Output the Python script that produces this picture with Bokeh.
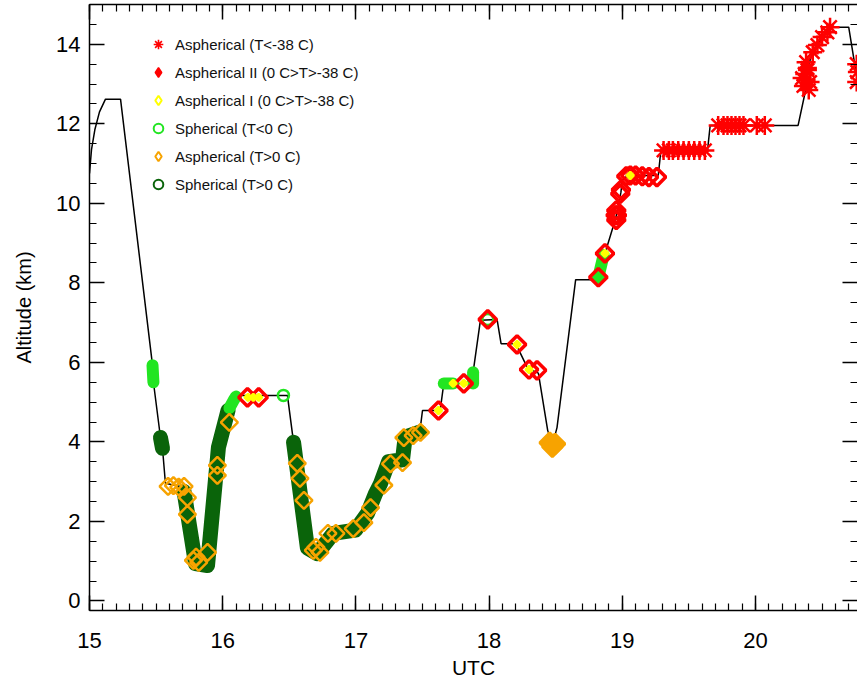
import math
from bokeh.plotting import figure
from bokeh.models import (Range1d, LinearAxis, SingleIntervalTicker, CustomJSTickFormatter,
                          Legend, LegendItem)
from bokeh.embed import file_html
from bokeh.resources import INLINE

# ---------------- data ----------------
# flight track (UTC hours, altitude km)
track_utc = [15.00, 15.015, 15.04, 15.075, 15.12, 15.233, 15.473, 15.48, 15.533, 15.548, 15.57,
             15.706, 15.796, 15.886, 15.968, 16.04, 16.081, 16.111, 16.486, 16.532, 16.636,
             16.71, 16.83, 16.997, 17.087, 17.147, 17.185, 17.245, 17.35, 17.37, 17.48, 17.50,
             17.62, 17.635, 17.66, 17.88, 17.88, 17.935, 18.06, 18.09, 18.20, 18.29, 18.37,
             18.44, 18.475, 18.51, 18.65, 18.77, 18.82, 18.87, 18.93, 18.96, 18.99, 19.00,
             19.04, 19.27, 19.29, 19.64, 19.66, 20.32, 20.38, 20.40, 20.43, 20.50, 20.56,
             20.70, 20.745, 20.77]
track_alt = [10.75, 11.35, 11.85, 12.30, 12.62, 12.62, 5.93, 5.50, 4.11, 3.84, 2.96,
             2.86, 0.94, 0.89, 3.86, 4.79, 5.04, 5.17, 5.17, 3.99, 1.33,
             1.19, 1.70, 1.78, 2.20, 2.70, 2.95, 3.50, 3.55, 4.12, 4.25, 4.79,
             4.79, 4.85, 5.47, 5.47, 5.75, 7.06, 7.08, 6.47, 6.47, 5.85, 5.73,
             4.29, 3.92, 4.36, 8.08, 8.08, 8.14, 8.74, 9.40, 9.75, 10.28, 10.58,
             10.70, 10.70, 11.33, 11.33, 11.96, 11.96, 12.90, 13.50, 13.80, 14.18, 14.43,
             14.43, 13.50, 13.20]

# Spherical (T>0 C): dense runs of samples
sph_warm_runs_utc = [[15.533, 15.548],
                     [15.71, 15.796, 15.886, 15.968, 16.04],
                     [16.532, 16.636, 16.71, 16.83, 16.997, 17.087, 17.147, 17.185, 17.245,
                      17.35, 17.37, 17.48]]
sph_warm_runs_alt = [[4.11, 3.84],
                     [2.75, 0.94, 0.89, 3.86, 4.79],
                     [3.99, 1.33, 1.19, 1.70, 1.78, 2.20, 2.70, 2.95, 3.50,
                      3.55, 4.12, 4.25]]

# Spherical (T<0 C): dense runs and isolated samples
sph_cold_runs_utc = [[15.473, 15.48], [16.05, 16.081, 16.10], [17.66, 17.73],
                     [17.88, 17.88], [18.82, 18.86]]
sph_cold_runs_alt = [[5.93, 5.50], [4.85, 5.04, 5.14], [5.47, 5.47],
                     [5.47, 5.75], [8.14, 8.70]]
sph_cold_utc = [16.456, 17.99, 18.82]
sph_cold_alt = [5.17, 7.08, 8.14]

# Aspherical (T>0 C)
asph_warm_utc = [15.59, 15.63, 15.67, 15.71, 15.735, 15.735, 15.78, 15.80, 15.82, 15.886,
                 15.96, 15.96, 16.05, 16.56, 16.58, 16.61, 16.68, 16.70, 16.73, 16.79,
                 16.85, 16.98, 17.06, 17.11, 17.21, 17.26, 17.35, 17.36, 17.43, 17.485]
asph_warm_alt = [2.88, 2.90, 2.86, 2.88, 2.60, 2.18, 1.02, 1.10, 0.97, 1.22,
                 3.41, 3.16, 4.49, 3.46, 3.08, 2.53, 1.27, 1.35, 1.22, 1.70,
                 1.70, 1.82, 1.97, 2.35, 2.91, 3.45, 3.48, 4.11, 4.16, 4.24]
asph_warm_blob_utc = [18.455, 18.475, 18.495]
asph_warm_blob_alt = [3.98, 3.88, 3.95]

# Aspherical II (0 C>T>-38 C)
asph2_utc = [16.186, 16.27, 17.62, 17.81, 17.99, 18.21, 18.30, 18.36, 18.82, 18.87,
             18.95, 18.96, 18.955, 18.955, 18.985, 18.99, 19.03, 19.06, 19.10, 19.15,
             19.20, 19.26]
asph2_alt = [5.12, 5.12, 4.79, 5.47, 7.08, 6.45, 5.82, 5.80, 8.14, 8.74,
             9.70, 9.70, 9.58, 9.82, 10.24, 10.34, 10.68, 10.70, 10.70, 10.68,
             10.66, 10.66]

# Aspherical I (0 C>T>-38 C)
asph1_utc = [16.19, 16.23, 16.27, 17.62, 17.73, 17.81, 18.21, 18.30, 18.87, 19.06]
asph1_alt = [5.12, 5.12, 5.12, 4.79, 5.47, 5.47, 6.45, 5.82, 8.74, 10.70]

# Aspherical (T<-38 C)
asph_cold_utc = [19.31, 19.35, 19.38, 19.42, 19.46, 19.50, 19.54, 19.58, 19.62,
                 19.72, 19.76, 19.79, 19.82, 19.85, 19.88, 19.91, 20.01, 20.07,
                 20.36, 20.38, 20.37, 20.39, 20.38, 20.40, 20.35, 20.41, 20.39,
                 20.43, 20.465, 20.50, 20.54, 20.56,
                 20.76, 20.765, 20.76]
asph_cold_alt = [11.33, 11.33, 11.33, 11.33, 11.33, 11.33, 11.33, 11.33, 11.33,
                 11.96, 11.96, 11.96, 11.96, 11.96, 11.96, 11.96, 11.96, 11.96,
                 12.95, 13.10, 13.25, 13.40, 13.55, 12.85, 13.15, 13.05, 13.35,
                 13.80, 13.98, 14.18, 14.30, 14.43,
                 13.05, 13.30, 13.50]

legend_labels = ["Aspherical (T<-38 C)", "Aspherical II (0 C>T>-38 C)",
                 "Aspherical I (0 C>T>-38 C)", "Spherical (T<0 C)",
                 "Aspherical (T>0 C)", "Spherical (T>0 C)"]
# legend-only proxy glyphs carry no plotted position
legend_proxy = [float("nan")]

x_ticks_major = 1
y_ticks_major = 2

# ---------------- colours ----------------
RED = "#ff0000"
YELLOW = "#ffff00"
LIME = "#22e522"
ORANGE = "#f7a300"
DKGREEN = "#0a640a"
FONT = "Liberation Sans"

p = figure(width=857, height=685, output_backend="svg", toolbar_location=None,
           x_range=Range1d(15.0, 20.766), y_range=Range1d(-0.24, 15.0),
           min_border_left=89, min_border_right=0, min_border_top=4, min_border_bottom=75)
p.outline_line_color = None
p.background_fill_color = "white"
p.border_fill_color = "white"
p.xgrid.visible = False
p.ygrid.visible = False

# track
p.line(track_utc, track_alt, line_color="black", line_width=1.5)

# dense runs
p.multi_line(sph_warm_runs_utc, sph_warm_runs_alt, line_color=DKGREEN, line_width=15,
             line_cap="round", line_join="round")
p.multi_line(sph_cold_runs_utc, sph_cold_runs_alt, line_color=LIME, line_width=12,
             line_cap="round", line_join="round")
p.scatter(sph_cold_utc, sph_cold_alt, marker="circle", size=11, fill_color=None,
          line_color=LIME, line_width=2.5)

D = math.pi / 4
p.scatter(asph_warm_utc, asph_warm_alt, marker="square", angle=D, size=12,
          fill_color=None, line_color=ORANGE, line_width=2.5)
p.scatter(asph_warm_blob_utc, asph_warm_blob_alt, marker="square", angle=D, size=14,
          fill_color=ORANGE, line_color=ORANGE, line_width=3)
p.scatter(asph2_utc, asph2_alt, marker="square", angle=D, size=12.5,
          fill_color=None, line_color=RED, line_width=3.5)
p.scatter(asph1_utc, asph1_alt, marker="square", angle=D, size=5,
          fill_color=YELLOW, line_color=YELLOW, line_width=2.5)
p.scatter(asph_cold_utc, asph_cold_alt, marker="asterisk", size=19,
          line_color=RED, line_width=2.5)

# legend proxies
lg = [
    p.scatter(legend_proxy, legend_proxy, marker="asterisk", line_color=RED, line_width=1.6),
    p.scatter(legend_proxy, legend_proxy, marker="diamond", fill_color=RED, line_color=RED,
              line_width=1.5),
    p.scatter(legend_proxy, legend_proxy, marker="diamond", fill_color=None, line_color=YELLOW,
              line_width=2),
    p.scatter(legend_proxy, legend_proxy, marker="circle", fill_color=None, line_color=LIME,
              line_width=2),
    p.scatter(legend_proxy, legend_proxy, marker="diamond", fill_color=None, line_color=ORANGE,
              line_width=2),
    p.scatter(legend_proxy, legend_proxy, marker="circle", fill_color=None, line_color=DKGREEN,
              line_width=2),
]
legend = Legend(items=[LegendItem(label=l, renderers=[r]) for l, r in zip(legend_labels, lg)],
                location=(57, 412), orientation="vertical",
                glyph_width=24, glyph_height=28, label_height=28, spacing=0, padding=0,
                margin=0, label_standoff=5, border_line_color=None,
                background_fill_alpha=0, label_text_font=FONT,
                label_text_font_size="15px", label_text_color="#111111")
p.add_layout(legend, "center")

# axes
def style_axis(ax):
    ax.axis_line_color = "black"
    ax.axis_line_width = 1.5
    ax.major_tick_line_color = "black"
    ax.minor_tick_line_color = "black"
    ax.major_tick_line_width = 1.5
    ax.minor_tick_line_width = 1.2
    ax.major_tick_in = 15
    ax.major_tick_out = 0
    ax.minor_tick_in = 7
    ax.minor_tick_out = 0
    ax.major_label_text_font = FONT
    ax.major_label_text_font_size = "22px"
    ax.major_label_text_color = "black"
    ax.axis_label_text_font = FONT
    ax.axis_label_text_font_style = "normal"
    ax.axis_label_text_color = "black"

xt = SingleIntervalTicker(interval=x_ticks_major, num_minor_ticks=10)
yt = SingleIntervalTicker(interval=y_ticks_major, num_minor_ticks=4)

xa = p.xaxis[0]
xa.ticker = xt
style_axis(xa)
xa.axis_label = "UTC"
xa.axis_label_text_font_size = "21px"
xa.major_label_standoff = 22
xa.axis_label_standoff = 5

ya = p.yaxis[0]
ya.ticker = yt
style_axis(ya)
ya.axis_label = "Altitude (km)"
ya.axis_label_text_font_size = "20px"
ya.major_label_standoff = 9
ya.axis_label_standoff = 18

blank = CustomJSTickFormatter(code="return ''")
top = LinearAxis(ticker=SingleIntervalTicker(interval=x_ticks_major, num_minor_ticks=10),
                 formatter=blank)
style_axis(top)
top.major_label_text_font_size = "0px"
top.major_label_standoff = 0
p.add_layout(top, "above")

right = LinearAxis(ticker=SingleIntervalTicker(interval=y_ticks_major, num_minor_ticks=4),
                   formatter=blank)
style_axis(right)
right.axis_line_color = None
right.major_label_text_font_size = "0px"
right.major_label_standoff = 0
p.add_layout(right, "right")

open("out.html", "w").write(file_html(p, INLINE))
